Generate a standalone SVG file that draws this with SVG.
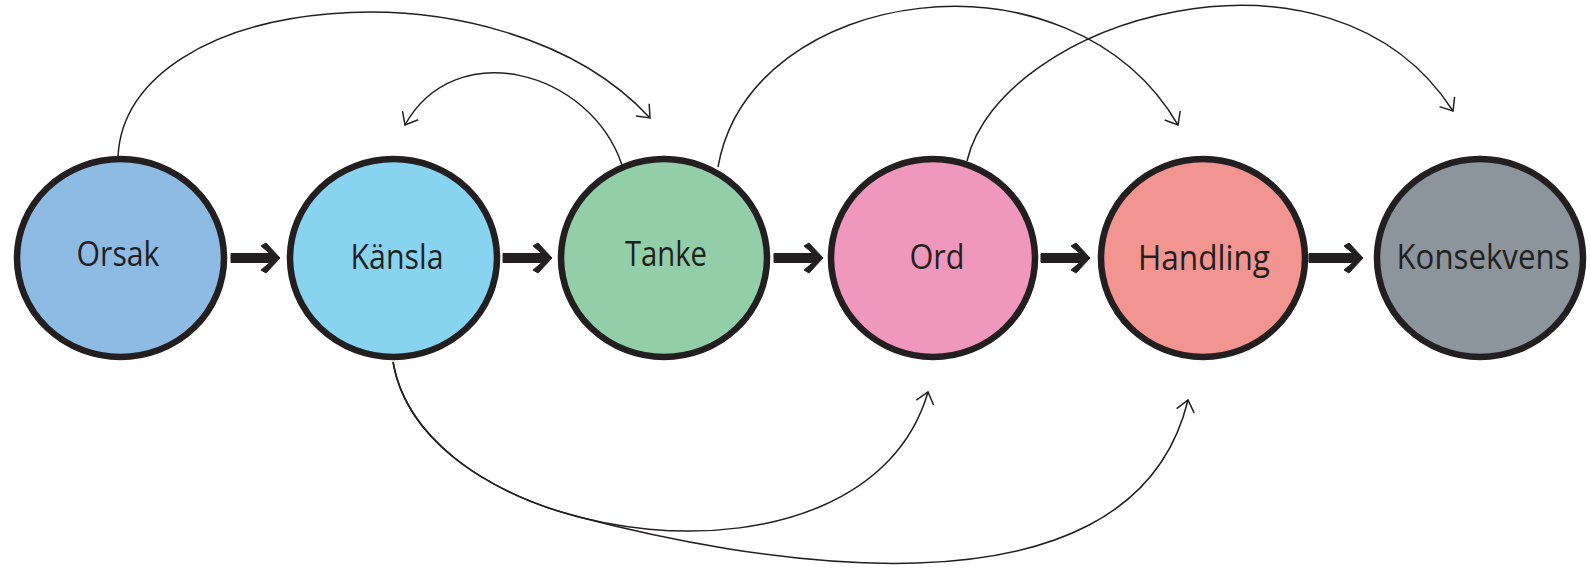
<svg xmlns="http://www.w3.org/2000/svg" width="1590" height="570" viewBox="0 0 1590 570">
  <style>
    .node { stroke: #231f20; stroke-width: 6.5; }
    .label { font-family: "Open Sans", "Noto Sans", "DejaVu Sans", sans-serif; font-size: 34px; fill: #231f20; text-anchor: middle; }
    .thick { fill: #231f20; stroke: #231f20; stroke-width: 1; stroke-linejoin: round; }
    .thin { fill: none; stroke: #231f20; stroke-width: 1.5; marker-end: url(#ah); }
  </style>
  <defs>
    <marker id="ah" viewBox="-16 -12 20 24" refX="0" refY="0" markerWidth="20" markerHeight="24" markerUnits="userSpaceOnUse" orient="auto">
      <path d="M-11,-9 L0,0 L-11,9" fill="none" stroke="#231f20" stroke-width="1.5"/>
    </marker>
    <path id="fat" d="M-49,253.5 H-10 L-19,246 L-14,243 L0,258 L-14,273 L-19,270 L-10,262.5 H-49 Z"/>
  </defs>
  <rect width="1590" height="570" fill="#ffffff"/>

  <g id="connectors">
    <use href="#fat" class="thick" transform="translate(280,0)"/>
    <use href="#fat" class="thick" transform="translate(552,0)"/>
    <use href="#fat" class="thick" transform="translate(823,0)"/>
    <use href="#fat" class="thick" transform="translate(1090,0)"/>
    <path class="thick" d="M1309,253.5 H1353 L1344,246 L1349,243 L1363,258 L1349,273 L1344,270 L1353,262.5 H1309 Z"/>
    <path id="orsak-tanke" class="thin" d="M118,157 C125,-10 500,-45 650,118"/>
    <path id="tanke-kansla" class="thin" d="M622,165 C590,70 455,35 405,125"/>
    <path id="tanke-handling" class="thin" d="M718,167 C750,-15 1070,-60 1178,125"/>
    <path id="ord-konsekvens" class="thin" d="M967,161 C1000,20 1330,-80 1453,111"/>
    <path id="kansla-ord" class="thin" d="M393,362 C425,550 865,610 928,392"/>
    <path id="kansla-handling" class="thin" d="M393,362 C405.8,437.2 483.9,491.9 577,516.5 C727,556 1130,640 1188,400"/>
  </g>

  <g id="orsak">
    <ellipse class="node" cx="120.5" cy="258" rx="103.5" ry="99" fill="#8ebbe4"/>
    <text class="label" x="118" y="266" textLength="83" lengthAdjust="spacingAndGlyphs">Orsak</text>
  </g>
  <g id="kansla">
    <ellipse class="node" cx="393.5" cy="258" rx="103.5" ry="99" fill="#87d3f0"/>
    <text class="label" x="397" y="269" textLength="93" lengthAdjust="spacingAndGlyphs">Känsla</text>
  </g>
  <g id="tanke">
    <ellipse class="node" cx="664" cy="258" rx="103" ry="99" fill="#92cfa9"/>
    <text class="label" x="666" y="266" textLength="82" lengthAdjust="spacingAndGlyphs">Tanke</text>
  </g>
  <g id="ord">
    <ellipse class="node" cx="933" cy="258" rx="102" ry="99" fill="#f097be"/>
    <text class="label" x="937" y="269" textLength="55" lengthAdjust="spacingAndGlyphs">Ord</text>
  </g>
  <g id="handling">
    <ellipse class="node" cx="1203" cy="258" rx="102" ry="99" fill="#f2948f"/>
    <text class="label" x="1204" y="270" textLength="132" lengthAdjust="spacingAndGlyphs">Handling</text>
  </g>
  <g id="konsekvens">
    <ellipse class="node" cx="1480" cy="258" rx="103" ry="99" fill="#8c959d"/>
    <text class="label" x="1483" y="269" textLength="173" lengthAdjust="spacingAndGlyphs">Konsekvens</text>
  </g>
</svg>
